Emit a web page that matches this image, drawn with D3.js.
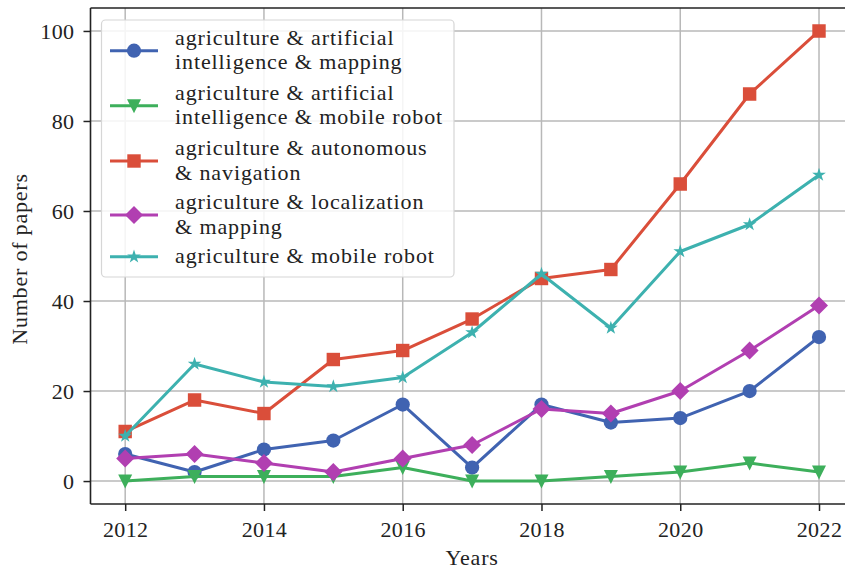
<!DOCTYPE html>
<html><head><meta charset="utf-8">
<script src="https://cdn.jsdelivr.net/npm/d3@7"></script>
<style>html,body{margin:0;padding:0;background:#fff}
svg text{font-family:"Liberation Serif","Times New Roman",serif;}</style>
</head><body>
<svg id="chart" width="845" height="569"></svg>
<script>
const years = [2012,2013,2014,2015,2016,2017,2018,2019,2020,2021,2022];
const aiMapping = [6,2,7,9,17,3,17,13,14,20,32];
const aiMobileRobot = [0,1,1,1,3,0,0,1,2,4,2];
const autonomousNavigation = [11,18,15,27,29,36,45,47,66,86,100];
const localizationMapping = [5,6,4,2,5,8,16,15,20,29,39];
const mobileRobot = [10,26,22,21,23,33,46,34,51,57,68];
const seriesLabels = [
  ["agriculture & artificial","intelligence & mapping"],
  ["agriculture & artificial","intelligence & mobile robot"],
  ["agriculture & autonomous","& navigation"],
  ["agriculture & localization","& mapping"],
  ["agriculture & mobile robot"]
];
const xTicks = [2012,2014,2016,2018,2020,2022];
const yTicks = [0,20,40,60,80,100];

const colors = ["#4063B1","#3DAF5B","#DA4E3A","#B13FB1","#3DB1AF"];
const markers = ["circle","triangle","square","diamond","star"];
const values = [aiMapping, aiMobileRobot, autonomousNavigation, localizationMapping, mobileRobot];

const svg = d3.select("#chart");
const fs = 22;
const L = 90.5, T = 8, B = 504, R = 853.7;
const x = d3.scaleLinear().domain([2011.5, 2022.5]).range([L, R]);
const y = d3.scaleLinear().domain([-5.1, 105.1]).range([B, T]);

svg.append("defs").append("clipPath").attr("id","clip")
  .append("rect").attr("x",L).attr("y",T-2).attr("width",R-L).attr("height",B-T+2);

const grid = svg.append("g");
grid.selectAll("line.gx").data(xTicks).join("line")
  .attr("x1",d=>x(d)).attr("x2",d=>x(d)).attr("y1",T).attr("y2",B)
  .attr("stroke","#b8b8b8").attr("stroke-width",1.5);
grid.selectAll("line.gy").data(yTicks).join("line")
  .attr("y1",d=>y(d)).attr("y2",d=>y(d)).attr("x1",L).attr("x2",R)
  .attr("stroke","#b8b8b8").attr("stroke-width",1.5);

const xAxis = svg.append("g").attr("transform",`translate(0,${B})`)
  .call(d3.axisBottom(x).tickValues(xTicks).tickFormat(d3.format("d")).tickSize(7).tickPadding(10));
const yAxis = svg.append("g").attr("transform",`translate(${L},0)`)
  .call(d3.axisLeft(y).tickValues(yTicks).tickSize(7).tickPadding(9));
[xAxis,yAxis].forEach(a=>{
  a.select(".domain").remove();
  a.attr("font-family",null);
  a.selectAll(".tick line").attr("stroke","#222").attr("stroke-width",1.5);
  a.selectAll("text").attr("font-size",fs).attr("fill","#222").attr("letter-spacing",0.4);
});
svg.append("line").attr("x1",L).attr("x2",L).attr("y1",T).attr("y2",B).attr("stroke","#222").attr("stroke-width",1.6);
svg.append("line").attr("x1",L).attr("x2",R).attr("y1",B).attr("y2",B).attr("stroke","#222").attr("stroke-width",1.6);
svg.append("line").attr("x1",L).attr("x2",R).attr("y1",T).attr("y2",T).attr("stroke","#222").attr("stroke-width",1.6);

svg.append("text").attr("x",(L+R)/2).attr("y",565).attr("text-anchor","middle")
  .attr("font-size",fs).attr("fill","#222").attr("letter-spacing",0.8).text("Years");
svg.append("text").attr("transform",`translate(27,${(T+B)/2 + 3}) rotate(-90)`).attr("text-anchor","middle")
  .attr("font-size",fs).attr("fill","#222").attr("letter-spacing",0.8).text("Number of papers");

function starPath(Ro){
  const Ri = Ro*0.382, pts=[];
  for(let i=0;i<10;i++){
    const r = i%2===0?Ro:Ri, a = -Math.PI/2 + i*Math.PI/5;
    pts.push([r*Math.cos(a), r*Math.sin(a)]);
  }
  return "M"+pts.map(p=>p[0].toFixed(2)+","+p[1].toFixed(2)).join("L")+"Z";
}
function sym(kind){
  switch(kind){
    case "circle": return d3.symbol(d3.symbolCircle, 160)();
    case "square": return d3.symbol(d3.symbolSquare, 180)();
    case "diamond": return "M0,-9L9,0L0,9L-9,0Z";
    case "triangle": return "M-7,-6.5L7,-6.5L0,7.5Z";
    case "star": return starPath(7.2);
  }
}

const plot = svg.append("g").attr("clip-path","url(#clip)");
const line = d3.line().x((d,i)=>x(years[i])).y(d=>y(d));
values.forEach((vals,k)=>{
  const g = plot.append("g");
  g.append("path").datum(vals).attr("d",line).attr("fill","none")
    .attr("stroke",colors[k]).attr("stroke-width",3).attr("stroke-linejoin","round");
  g.selectAll("path.m").data(vals).join("path").attr("class","m")
    .attr("transform",(d,i)=>`translate(${x(years[i])},${y(d)})`)
    .attr("d",sym(markers[k])).attr("fill",colors[k]);
});

const lg = svg.append("g");
lg.append("rect").attr("x",101.5).attr("y",20).attr("width",352.5).attr("height",257).attr("rx",4)
  .attr("fill","rgba(255,255,255,0.85)").attr("stroke","#d6d6d6").attr("stroke-width",1.2);
const entryY = [50.7,105.7,161,215,256.7];
seriesLabels.forEach((lines,k)=>{
  const cy = entryY[k];
  lg.append("line").attr("x1",110).attr("x2",158).attr("y1",cy).attr("y2",cy)
    .attr("stroke",colors[k]).attr("stroke-width",3);
  lg.append("path").attr("transform",`translate(134,${cy})`).attr("d",sym(markers[k])).attr("fill",colors[k]);
  const n = lines.length;
  lines.forEach((t,j)=>{
    lg.append("text").attr("x",175).attr("y",cy + 6.5 + (j-(n-1)/2)*24.5)
      .attr("font-size",fs).attr("fill","#222").attr("letter-spacing",0.9).text(t);
  });
});
</script>
</body></html>
